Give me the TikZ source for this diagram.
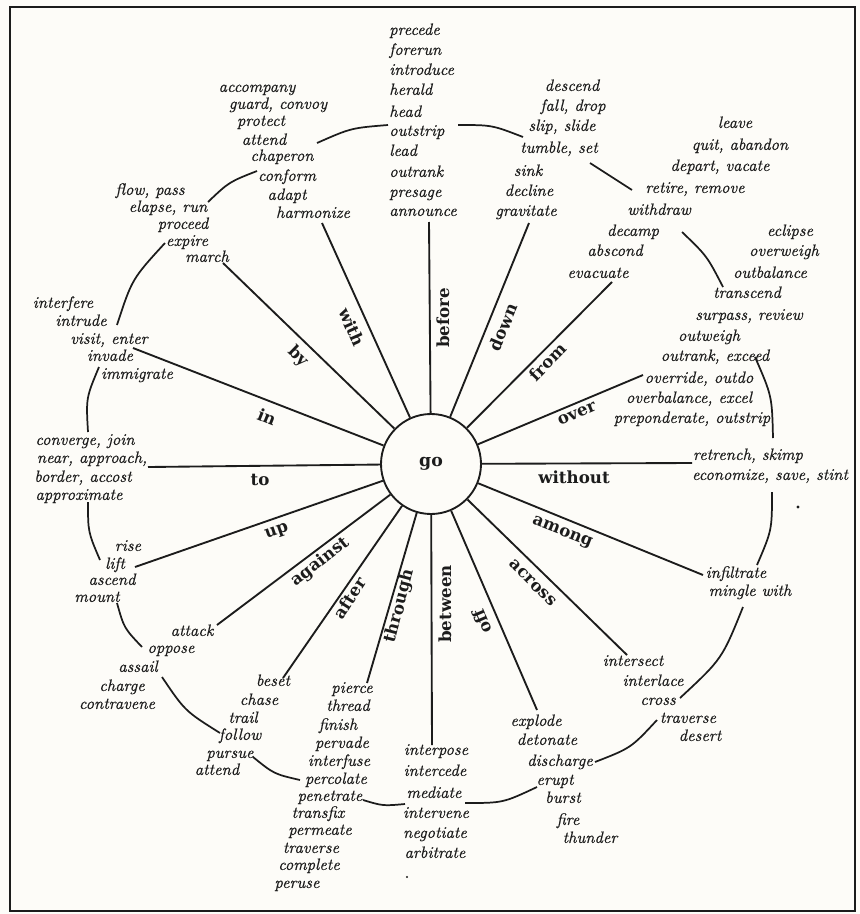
\documentclass[tikz,border=0pt]{standalone}
\usepackage{fontspec}
\newfontfamily\labfont{DejaVu Serif}
\newfontfamily\wfont{lmroman10-italic.otf}[FakeBold=0.5]
\definecolor{ink}{RGB}{28,28,28}
\definecolor{paper}{RGB}{253,252,248}
\begin{document}
\begin{tikzpicture}[x=0.75pt,y=-0.75pt,
  w/.style={anchor=mid, inner sep=0pt, font=\wfont\fontsize{12.3}{14}\selectfont, text=ink},
  wl/.style={w, anchor=mid west},
  lab/.style={inner sep=0pt, font=\labfont\bfseries\fontsize{12.5}{14}\selectfont, text=ink},
  spoke/.style={draw=ink, line width=1.4pt},
  ring/.style={draw=ink, line width=1.3pt}]
\useasboundingbox (0,0) rectangle (860,914);
\fill[paper] (0,0) rectangle (860,914);
\draw[ink, line width=2.2pt] (10,7) rectangle (855,911);

% centre
\node[circle, draw=ink, line width=1.4pt, minimum size=75pt, inner sep=0pt, fill=paper,
      font=\labfont\bfseries\fontsize{13}{14}\selectfont, text=ink] (go) at (431,464) {go};

% spoke ends
\coordinate (e-before)  at (429,222);
\coordinate (e-down)    at (529,223);
\coordinate (e-from)    at (612,282);
\coordinate (e-over)    at (643,375);
\coordinate (e-without) at (692,463);
\coordinate (e-among)   at (703,575);
\coordinate (e-across)  at (627,655);
\coordinate (e-off)     at (537,710);
\coordinate (e-between) at (432,745);
\coordinate (e-through) at (367,683);
\coordinate (e-after)   at (283,678);
\coordinate (e-against) at (217,625);
\coordinate (e-up)      at (135,567);
\coordinate (e-to)      at (148,467);
\coordinate (e-in)      at (133,348);
\coordinate (e-by)      at (223,263);
\coordinate (e-with)    at (322,223);
\foreach \s in {before,down,from,over,without,among,across,off,between,through,after,against,up,to,in,by,with}
  \draw[spoke] (go) -- (e-\s);

% spoke labels
\node[lab, rotate=90]    (l-before)  at (443,318) {before};
\node[lab, rotate=67.6]  (l-down)    at (503,327) {down};
\node[lab, rotate=45.8]  (l-from)    at (548,362) {from};
\node[lab, rotate=23.1]  (l-over)    at (577,414) {over};
\node[lab]               (l-without) at (574,477) {without};
\node[lab, rotate=-21.3] (l-among)   at (562,533) {among};
\node[lab, rotate=-45]   (l-across)  at (533,583) {across};
\node[lab, rotate=113.1] (l-off)     at (482,622) {off};
\node[lab, rotate=90]    (l-between) at (445,604) {between};
\node[lab, rotate=75.4]  (l-through) at (400,606) {through};
\node[lab, rotate=57.1]  (l-after)   at (350,598) {after};
\node[lab, rotate=38.1]  (l-against) at (320,562) {against};
\node[lab, rotate=19.1]  (l-up)      at (277,532) {up};
\node[lab]               (l-to)      at (260,480) {to};
\node[lab, rotate=-21.8] (l-in)      at (267,417) {in};
\node[lab, rotate=-44.1] (l-by)      at (298,357) {by};
\node[lab, rotate=-66.1] (l-with)    at (352,327) {with};

% word groups
\foreach \y/\t [count=\i] in {32/precede,52/forerun,72/introduce,92/herald,114/head,133/outstrip,153/lead,174/outrank,194/presage,213/announce}
  \node[wl] (before-\i) at (389,\y) {\t};
\foreach \x/\y/\t [count=\i] in {572/88/descend,573/108/{fall, drop},562/128/{slip, slide},559/150/{tumble, set},528/173/sink,529/193/decline,526/213/gravitate}
  \node[w] (down-\i) at (\x,\y) {\t};
\foreach \x/\y/\t [count=\i] in {735/125/leave,740/147/{quit, abandon},720/168/{depart, vacate},695/190/{retire, remove},659/212/withdraw,633/233/decamp,615/253/abscond,598/275/evacuate}
  \node[w] (from-\i) at (\x,\y) {\t};
\foreach \x/\y/\t [count=\i] in {790/233/eclipse,784/253/overweigh,770/275/outbalance,747/295/transcend,749/317/{surpass, review},709/338/outweigh,715/358/{outrank, exceed},699/380/{override, outdo},689/400/{overbalance, excel},692/420/{preponderate, outstrip}}
  \node[w] (over-\i) at (\x,\y) {\t};
\foreach \x/\y/\t [count=\i] in {748/457/{retrench, skimp},770/477/{economize, save, stint}}
  \node[w] (without-\i) at (\x,\y) {\t};
\foreach \x/\y/\t [count=\i] in {736/575/infiltrate,750/593/{mingle with}}
  \node[w] (among-\i) at (\x,\y) {\t};
\foreach \x/\y/\t [count=\i] in {633/663/intersect,653/683/interlace,658/702/cross,688/720/traverse,700/738/desert}
  \node[w] (across-\i) at (\x,\y) {\t};
\foreach \x/\y/\t [count=\i] in {536/723/explode,547/742/detonate,560/763/discharge,555/782/erupt,563/800/burst,568/822/fire,590/840/thunder}
  \node[w] (off-\i) at (\x,\y) {\t};
\foreach \x/\y/\t [count=\i] in {436/752/interpose,435/773/intercede,434/795/mediate,436/815/intervene,435/835/negotiate,435/855/arbitrate}
  \node[w] (between-\i) at (\x,\y) {\t};
\foreach \x/\y/\t [count=\i] in {352/690/pierce,348/708/thread,338/727/finish,342/745/pervade,339/763/interfuse,336/781/percolate,330/798/penetrate,318/815/transfix,320/832/permeate,311/850/traverse,309/867/complete,297/885/peruse}
  \node[w] (through-\i) at (\x,\y) {\t};
\foreach \x/\y/\t [count=\i] in {273/683/beset,259/702/chase,243/720/trail,240/737/follow,230/755/pursue,217/772/attend}
  \node[w] (after-\i) at (\x,\y) {\t};
\foreach \x/\y/\t [count=\i] in {192/633/attack,171/650/oppose,138/669/assail,122/688/charge,117/706/contravene}
  \node[w] (against-\i) at (\x,\y) {\t};
\foreach \x/\y/\t [count=\i] in {128/548/rise,115/566/lift,112/582/ascend,97/599/mount}
  \node[w] (up-\i) at (\x,\y) {\t};
\foreach \x/\y/\t [count=\i] in {85/442/{converge, join},92/460/{near, approach,},83/479/{border, accost},79/497/approximate}
  \node[w] (to-\i) at (\x,\y) {\t};
\foreach \x/\y/\t [count=\i] in {63/305/interfere,81/323/intrude,109/341/{visit, enter},110/358/invade,137/376/immigrate}
  \node[w] (in-\i) at (\x,\y) {\t};
\foreach \x/\y/\t [count=\i] in {150/192/{flow, pass},168/209/{elapse, run},183/226/proceed,187/243/expire,207/259/march}
  \node[w] (by-\i) at (\x,\y) {\t};
\foreach \x/\y/\t [count=\i] in {257/89/accompany,278/106/{guard, convoy},261/123/protect,264/142/attend,282/158/chaperon,287/178/conform,287/197/adapt,313/215/harmonize}
  \node[w] (with-\i) at (\x,\y) {\t};

% outer ring connectors
\coordinate (ra1) at (388,125); \coordinate (ra2) at (317,143);
\coordinate (rb1) at (257,171); \coordinate (rb2) at (208,202);
\coordinate (rc1) at (165,243); \coordinate (rc2) at (117,325);
\coordinate (rd1) at (99,367);  \coordinate (rd2) at (88,432);
\coordinate (re1) at (88,502);  \coordinate (re2) at (100,560);
\coordinate (rf1) at (117,603); \coordinate (rf2) at (142,647);
\coordinate (rg1) at (162,677); \coordinate (rg2) at (220,733);
\coordinate (rh1) at (253,757); \coordinate (rh2) at (300,780);
\coordinate (ri1) at (363,800); \coordinate (ri2) at (405,804);
\coordinate (rj1) at (465,803); \coordinate (rj2) at (537,787);
\coordinate (rk1) at (595,762); \coordinate (rk2) at (657,720);
\coordinate (rl1) at (680,698); \coordinate (rl2) at (743,607);
\coordinate (rm1) at (772,492); \coordinate (rm2) at (757,565);
\coordinate (rn1) at (755,357); \coordinate (rn2) at (773,438);
\coordinate (ro1) at (682,232); \coordinate (ro2) at (723,287);
\coordinate (rp1) at (590,163); \coordinate (rp2) at (632,190);
\coordinate (rq1) at (458,125); \coordinate (rq2) at (523,137);
\draw[ring] (ra1) .. controls (351,128) .. (ra2);
\draw[ring] (rb1) .. controls (229,182) .. (rb2);
\draw[ring] (rc1) .. controls (132,279) .. (rc2);
\draw[ring] (rd1) .. controls (86,398) .. (rd2);
\draw[ring] (re1) .. controls (88,532) .. (re2);
\draw[ring] (rf1) .. controls (124,628) .. (rf2);
\draw[ring] (rg1) .. controls (185,711) .. (rg2);
\draw[ring] (rh1) .. controls (274,774) .. (rh2);
\draw[ring] (ri1) .. controls (383,806) .. (ri2);
\draw[ring] (rj1) .. controls (503,803) .. (rj2);
\draw[ring] (rk1) .. controls (631,748) .. (rk2);
\draw[ring] (rl1) .. controls (722,659) .. (rl2);
\draw[ring] (rm1) .. controls (772,530) .. (rm2);
\draw[ring] (rn1) .. controls (772,396) .. (rn2);
\draw[ring] (ro1) .. controls (707,256) .. (ro2);
\draw[ring] (rp1) -- (rp2);
\draw[ring] (rq1) .. controls (492,125) .. (rq2);

% specks
\fill[ink] (798,507) circle (1.2pt);
\fill[ink] (407,877) circle (0.9pt);
\end{tikzpicture}
\end{document}
